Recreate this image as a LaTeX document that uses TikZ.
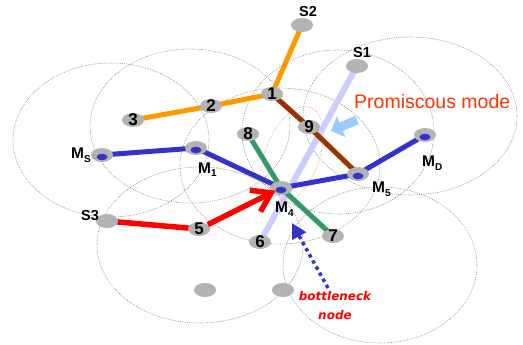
\documentclass[tikz,border=0pt]{standalone}
\usepackage{fontspec}
\setmainfont{Liberation Sans}
\newfontfamily\bnfont{DejaVu Sans}
\usetikzlibrary{shapes.geometric,arrows.meta}
\pgfdeclarelayer{back}
\pgfdeclarelayer{mid}
\pgfsetlayers{back,mid,main}
\definecolor{nodegray}{HTML}{B3B3B3}
\definecolor{lorange}{HTML}{FF9900}
\definecolor{lblue}{HTML}{3333CC}
\definecolor{lgreen}{HTML}{339966}
\definecolor{llav}{HTML}{CCCCFF}
\definecolor{lbrown}{HTML}{993300}
\definecolor{lred}{HTML}{FF0000}
\definecolor{promo}{HTML}{FF3300}
\definecolor{arrblue}{HTML}{99CCFF}
\definecolor{rangegray}{HTML}{808080}
\definecolor{orrange}{HTML}{FF9966}
\newcommand\mysubs[1]{\raisebox{-4pt}{\fontsize{10}{10}\selectfont #1}}
\tikzset{
  peer/.style={ellipse, fill=nodegray, minimum width=22pt, minimum height=14pt, inner sep=0pt},
  num/.style={font=\bfseries\fontsize{17}{17}\selectfont, inner sep=0pt},
  mnode/.style={peer, path picture={\fill[lblue] ([yshift=-2pt]path picture bounding box.center) ellipse [x radius=5.5pt, y radius=3.3pt];}},
  lab/.style={font=\bfseries\fontsize{14.5}{14.5}\selectfont, inner sep=0pt, anchor=base west},
  mlab/.style={font=\bfseries\fontsize{15.5}{15.5}\selectfont, inner sep=0pt, anchor=base west},
  radiorange/.style={draw=rangegray, line width=0.6pt, dash pattern=on 0.7pt off 1.1pt},
  link/.style={line width=5pt, line cap=butt},
}
\begin{document}
\begin{tikzpicture}[x=1pt,y=-1pt]
\useasboundingbox (0,0) rectangle (523,345);

% radio ranges
\begin{pgfonlayer}{back}
\fill[white] (0,0) rectangle (523,345);
\draw[radiorange] (111,140) ellipse [x radius=98pt, y radius=77pt];
\draw[radiorange] (190,126) ellipse [x radius=100pt, y radius=77pt];
\draw[radiorange] (280,166) ellipse [x radius=100pt, y radius=78pt];
\draw[radiorange] (200,245) ellipse [x radius=103pt, y radius=78pt];
\draw[radiorange] (380,265) ellipse [x radius=97pt, y radius=78pt];
\draw[radiorange] (410,116) ellipse [x radius=107pt, y radius=79pt];
\draw[radiorange] (338,132) ellipse [x radius=96pt, y radius=82pt];
\draw[draw=orrange, line width=0.6pt, dash pattern=on 0.7pt off 1.1pt] (292,156) ellipse [x radius=52pt, y radius=27pt, rotate=69];
\end{pgfonlayer}

% nodes
\node[peer, label={[num]center:1}] (n1) at (272,94) {};
\node[peer, label={[num]center:2}] (n2) at (211,106) {};
\node[peer, label={[num]center:3}] (n3) at (133,120) {};
\node[peer, label={[num]center:5}] (n5) at (199,229) {};
\node[peer, label={[num]center:6}] (n6) at (260,242) {};
\node[peer, label={[num]center:7}] (n7) at (333,236) {};
\node[peer, label={[num]center:8}] (n8) at (248,134) {};
\node[peer, label={[num]center:9}] (n9) at (309,127) {};
\node[peer] (S2) at (302,25) {};
\node[peer] (S1) at (357,66) {};
\node[peer] (S3) at (107,221) {};
\node[peer] (b1) at (205,290) {};
\node[peer] (b2) at (283,290) {};
\node[mnode] (MS) at (102,155) {};
\node[mnode] (M1) at (196,148) {};
\node[mnode] (M4) at (281,188) {};
\node[mnode] (M5) at (358,174) {};
\node[mnode] (MD) at (425,135) {};

% links
\begin{pgfonlayer}{mid}
\draw[link, llav, line width=6pt] (S1.center) -- (n6.center);
\draw[link, lorange] (n3.center) -- (n2.center) -- (n1.center) -- (S2.center);
\draw[link, lbrown] (n1.center) -- (n9.center) -- (M5.center);
\draw[link, lgreen] (n8.center) -- (M4.center) -- (n7.center);
\draw[link, lblue] (MS.center) -- (M1.center) -- (M4.center) -- (M5.center) -- (MD.center);
\draw[link, lred, line width=5.5pt] (S3.center) -- (n5.center);
\coordinate (pa1) at (357,120);
\coordinate (pa2) at (331,131);
\draw[arrblue, line width=9pt, -{Triangle[length=11pt,width=22pt]}] (pa1) -- (pa2);
\end{pgfonlayer}

\draw[lred, line width=5.5pt, shorten >=6pt, -{Straight Barb[length=18pt,width=24pt]}] (n5) -- (M4.center);

% labels
\node[lab] (tS2) at (299,17) {S2};
\node[lab] (tS1) at (353,58) {S1};
\node[lab] (tS3) at (81,221) {S3};
\node[mlab] (tMS) at (71,158) {M\mysubs{S}};
\node[mlab] (tM1) at (198,173) {M\mysubs{1}};
\node[mlab] (tM4) at (275,212) {M\mysubs{4}};
\node[mlab] (tM5) at (372,193) {M\mysubs{5}};
\node[mlab] (tMD) at (422,167) {M\mysubs{D}};
\node[font=\fontsize{19.5}{19.5}\selectfont, text=promo, inner sep=0pt, anchor=base west] (promo) at (354,109) {Promiscous mode};

% bottleneck
\node[font=\bnfont\bfseries\itshape\fontsize{12}{19}\selectfont, text=lred, align=center, inner sep=0pt] (bn) at (335,306) {bottleneck\\node};
\coordinate (bt) at (328,288);
\coordinate (bh) at (292,223);
\draw[lblue, line width=3.5pt, dash pattern=on 3.5pt off 3.5pt, -{Triangle[length=15pt,width=15pt]}] (bt) -- (bh);
\end{tikzpicture}
\end{document}
